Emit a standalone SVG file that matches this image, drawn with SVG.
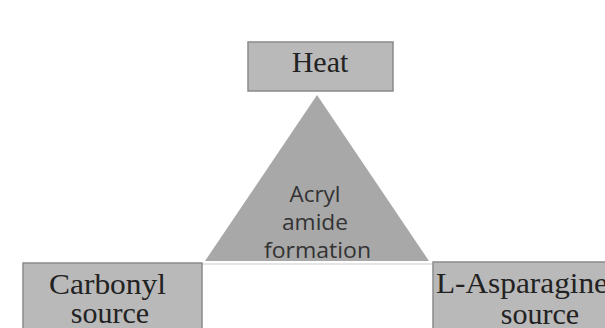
<svg xmlns="http://www.w3.org/2000/svg" width="605" height="328" viewBox="0 0 605 328">
<style>
.box{fill:#b9b9b9;stroke:#8a8a8a;stroke-width:1.5}
.serif{font-family:"Liberation Serif","Times New Roman",serif;font-size:30px;fill:#222}
.sans{font-family:"Open Sans","Liberation Sans",sans-serif;font-size:22px;fill:#333;text-anchor:middle}
</style>
<rect x="0" y="0" width="605" height="328" fill="#ffffff"/>
<g id="heat">
<rect class="box" x="248" y="42" width="145" height="49"/>
<text class="serif" x="320" y="72" text-anchor="middle">Heat</text>
</g>
<g id="acrylamide">
<polygon points="317,95 429,261 205,261" fill="#a8a8a8"/>
<text class="sans" x="315" y="202" textLength="51" lengthAdjust="spacingAndGlyphs">Acryl</text>
<text class="sans" x="315" y="230" textLength="66" lengthAdjust="spacingAndGlyphs">amide</text>
<text class="sans" x="317.5" y="258" textLength="107" lengthAdjust="spacingAndGlyphs">formation</text>
</g>
<line x1="202" y1="264" x2="433" y2="264" stroke="#dddddd" stroke-width="1.5"/>
<g id="carbonyl">
<rect class="box" x="23" y="263" width="179" height="80"/>
<text class="serif" x="107.5" y="294" text-anchor="middle" textLength="117" lengthAdjust="spacingAndGlyphs">Carbonyl</text>
<text class="serif" x="110" y="323" text-anchor="middle">source</text>
</g>
<g id="asparagine">
<rect class="box" x="433" y="262" width="190" height="80"/>
<text class="serif" x="436" y="293" textLength="172" lengthAdjust="spacingAndGlyphs">L-Asparagine</text>
<text class="serif" x="540" y="324" text-anchor="middle">source</text>
</g>
</svg>
